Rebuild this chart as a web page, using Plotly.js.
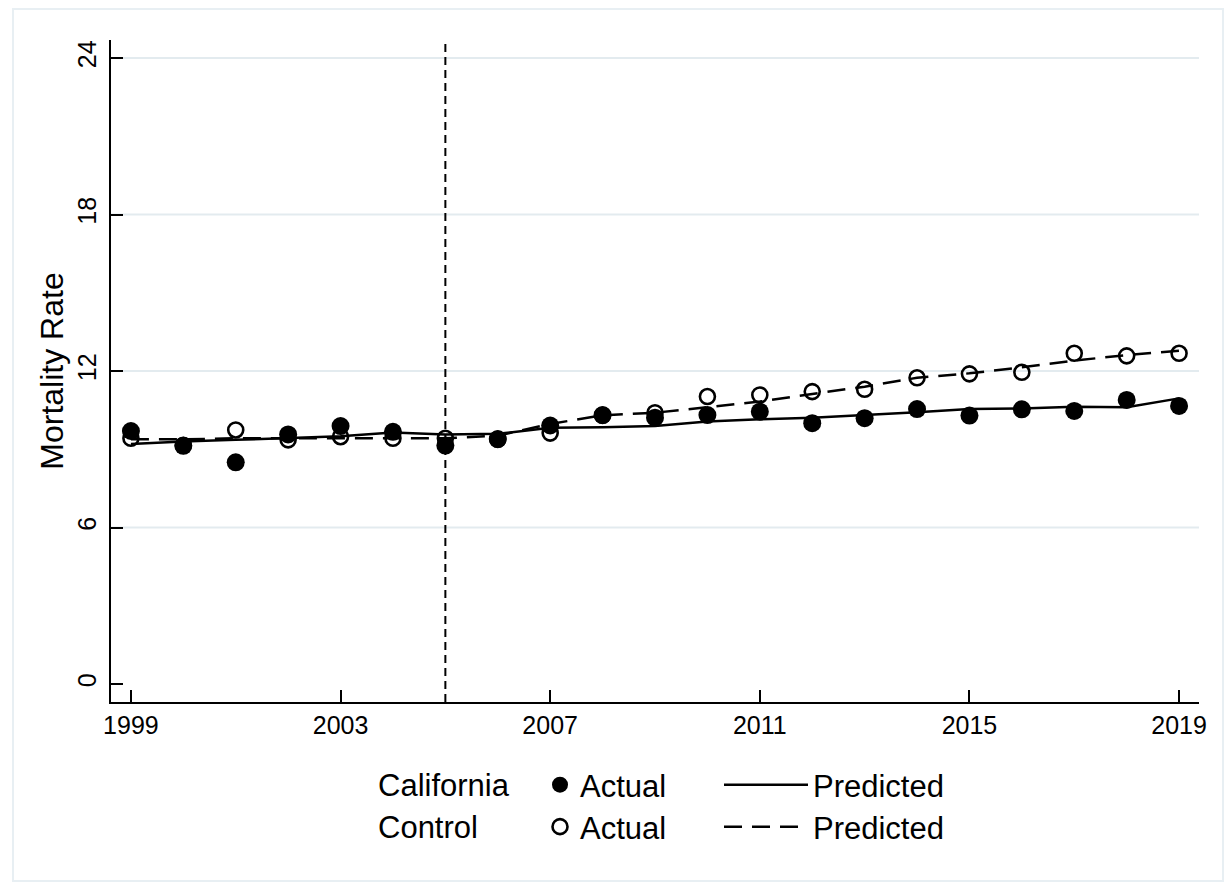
<!DOCTYPE html>
<html>
<head>
<meta charset="utf-8">
<script src="https://cdn.plot.ly/plotly-3.0.1.min.js"></script>
<style>
html,body{margin:0;padding:0;background:#fff;}
#wrap{position:relative;width:1231px;height:888px;}
#chart{width:1231px;height:888px;}
#frame{position:absolute;left:12px;top:8px;width:1208px;height:870px;border:2px solid #e8eff3;pointer-events:none;}
</style>
</head>
<body>
<div id="wrap"><div id="chart"></div><div id="frame"></div></div>
<script>
// ---- data ----
const years = [1999,2000,2001,2002,2003,2004,2005,2006,2007,2008,2009,2010,2011,2012,2013,2014,2015,2016,2017,2018,2019];
const caActual   = [9.70,9.13,8.50,9.57,9.89,9.67,9.14,9.39,9.91,10.31,10.21,10.31,10.44,10.00,10.19,10.54,10.29,10.53,10.47,10.89,10.66];
const ctrlActual = [9.42,9.15,9.74,9.36,9.48,9.42,9.42,9.38,9.62,10.30,10.40,11.02,11.08,11.21,11.30,11.74,11.89,11.95,12.68,12.58,12.68];
const caPred     = [9.20,9.30,9.36,9.42,9.50,9.64,9.57,9.59,9.82,9.84,9.89,10.06,10.15,10.21,10.31,10.42,10.54,10.56,10.63,10.61,10.95];
const ctrlPred   = [9.38,9.38,9.42,9.42,9.44,9.42,9.42,9.52,9.97,10.30,10.40,10.61,10.83,11.12,11.40,11.74,11.91,12.14,12.40,12.61,12.78];
const xTicks = [1999,2003,2007,2011,2015,2019];
const yTicks = [0,6,12,18,24];
const gridVals = [6,12,18,24];
const policyYear = 2005;
const groupLabels = ["California","Control"];

const FONT = "Liberation Sans, Arial, Helvetica, sans-serif";

const traces = [
  {x: years, y: caPred, type:'scatter', mode:'lines', name:'Predicted',
   line:{color:'#000', width:2.5}, legend:'legend2'},
  {x: years, y: ctrlPred, type:'scatter', mode:'lines', name:'Predicted',
   line:{color:'#000', width:2.5, dash:'18px,10px'}, legend:'legend4'},
  {x: years, y: ctrlActual, type:'scatter', mode:'markers', name:'Actual',
   marker:{symbol:'circle-open', size:15, color:'#000', line:{width:2.6, color:'#000'}}, legend:'legend3'},
  {x: years, y: caActual, type:'scatter', mode:'markers', name:'Actual',
   marker:{symbol:'circle', size:18, color:'#000'}, legend:'legend'}
];

const legBase = {xref:'container', yref:'container', orientation:'h', yanchor:'middle', xanchor:'left',
  bgcolor:'rgba(0,0,0,0)', borderwidth:0, font:{family:FONT, size:31, color:'#000'}};
function px(x){return x/1231;}
function py(y){return 1 - y/888;}

const shapes = gridVals.map(v => ({type:'line', xref:'paper', x0:0, x1:1, yref:'y', y0:v, y1:v,
  line:{color:'#e3ebef', width:2}, layer:'below'}));
shapes.push({type:'line', xref:'x', x0:policyYear, x1:policyYear, yref:'paper', y0:0, y1:1,
  line:{color:'#000', width:2, dash:'8px,5px'}});

const layout = {
  width:1231, height:888,
  margin:{l:111, r:32, t:40, b:186},
  paper_bgcolor:'#fff', plot_bgcolor:'#fff',
  font:{family:FONT, color:'#000'},
  xaxis:{range:[1998.62, 2019.38], tickvals:xTicks, ticktext:xTicks.map(String),
    showgrid:false, zeroline:false, showline:true, linecolor:'#000', linewidth:2,
    ticks:'inside', ticklen:12, tickwidth:2, tickcolor:'#000',
    tickfont:{family:FONT, size:25, color:'#000'}},
  yaxis:{range:[-0.69, 24.69], tickvals:yTicks, ticktext:yTicks.map(String),
    showgrid:false, zeroline:false, showline:true, linecolor:'#000', linewidth:2,
    ticks:'inside', ticklen:12, tickwidth:2, tickcolor:'#000', tickangle:-90,
    ticklabelstandoff:3,
    tickfont:{family:FONT, size:25, color:'#000'},
    title:{text:'Mortality Rate', font:{family:FONT, size:32, color:'#000'}, standoff:0}},
  shapes: shapes,
  showlegend:true,
  legend: Object.assign({}, legBase, {x:px(540), y:py(785)}),
  legend2: Object.assign({}, legBase, {x:px(719), y:py(785), itemwidth:84}),
  legend3: Object.assign({}, legBase, {x:px(540), y:py(827)}),
  legend4: Object.assign({}, legBase, {x:px(719), y:py(827), itemwidth:84}),
  annotations: [
    {text:groupLabels[0], xref:'paper', yref:'paper', x:(376-111)/1088, y:(702-785)/662, xanchor:'left', yanchor:'middle',
     showarrow:false, font:{family:FONT, size:31, color:'#000'}},
    {text:groupLabels[1], xref:'paper', yref:'paper', x:(376-111)/1088, y:(702-827)/662, xanchor:'left', yanchor:'middle',
     showarrow:false, font:{family:FONT, size:31, color:'#000'}}
  ]
};

Plotly.newPlot('chart', traces, layout, {displayModeBar:false, staticPlot:true});
</script>
</body>
</html>
